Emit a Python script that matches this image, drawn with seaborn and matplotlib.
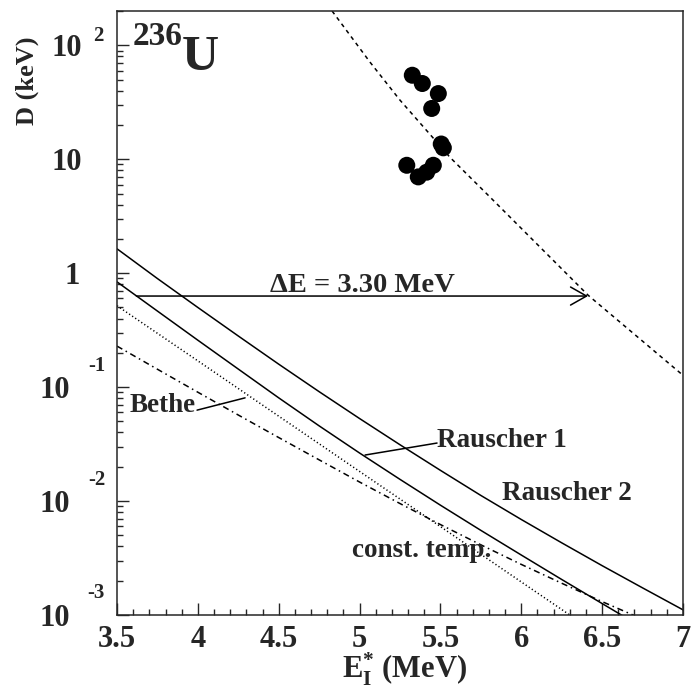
import numpy as np
import pandas as pd
import matplotlib
matplotlib.use("Agg")
import matplotlib.pyplot as plt
from matplotlib.ticker import MultipleLocator, LogLocator, NullFormatter
import seaborn as sns

# Level spacing D (keV) versus excitation energy E_I* (MeV) for 236U
energy = [3.5, 3.75, 4.0, 4.25, 4.5, 4.75, 5.0, 5.25, 5.5, 5.75, 6.0, 6.25, 6.5, 6.75, 7.0]
rauscher2_d = [1.637, 0.897, 0.500, 0.281, 0.159, 0.0912, 0.0530, 0.0312, 0.0186,
               0.0112, 0.00689, 0.00430, 0.00271, 0.00173, 0.00111]

energy_r1 = [3.5, 3.75, 4.0, 4.25, 4.5, 4.75, 5.0, 5.25, 5.5, 5.75, 6.0, 6.25, 6.5, 6.75]
rauscher1_d = [0.839, 0.465, 0.258, 0.144, 0.0805, 0.0457, 0.0264, 0.0155, 0.00920,
               0.00553, 0.00336, 0.00205, 0.00126, 0.000776]

energy_bethe = [3.5, 4.0, 4.5, 5.0, 5.5, 6.0, 6.4]
bethe_d = [0.518, 0.170, 0.0556, 0.0182, 0.00597, 0.00195, 0.00080]

energy_ct = [3.5, 3.75, 4.0, 4.25, 4.5, 4.75, 5.0, 5.25, 5.5, 5.75, 6.0, 6.25, 6.5, 6.75]
const_temp_d = [0.2291, 0.1435, 0.0902, 0.0569, 0.0361, 0.0230, 0.01469, 0.00951,
                0.00622, 0.00413, 0.00278, 0.00190, 0.00131, 0.00092]

energy_extrap = [4.83, 5.065, 5.25, 5.467, 5.559, 5.807, 6.413, 7.0]
extrap_d = [200.0, 71.0, 33.0, 14.7, 10.4, 4.65, 0.641, 0.127]

# measured resonance spacings
exp_energy = [5.326, 5.388, 5.487, 5.446, 5.518, 5.505, 5.292, 5.363, 5.415, 5.456]
exp_d = [54.6, 46.2, 37.7, 27.9, 12.6, 13.6, 8.85, 7.0, 7.7, 8.85]

arrow_d = 0.63
arrow_from, arrow_to = 3.62, 6.413

yticks = [1e-3, 1e-2, 1e-1, 1.0, 10.0, 100.0]
ytick_base = ["10", "10", "10", "1", "10", "10"]
ytick_exp = ["-3", "-2", "-1", "", "", "2"]
xticks = [3.5, 4.0, 4.5, 5.0, 5.5, 6.0, 6.5, 7.0]
xtick_labels = ["3.5", "4", "4.5", "5", "5.5", "6", "6.5", "7"]

sns.set_theme(style="ticks")
plt.rcParams.update({
    "font.family": ["Liberation Serif", "DejaVu Serif"],
    "font.weight": "bold",
    "mathtext.fontset": "custom",
    "mathtext.rm": "Liberation Serif:bold",
    "mathtext.bf": "Liberation Serif:bold",
    "mathtext.it": "Liberation Serif:bold",
    "axes.linewidth": 1.1,
})

W, H = 692, 690
fig = plt.figure(figsize=(W / 100, H / 100), dpi=100)
ax = fig.add_axes([117 / W, 1 - 615 / H, (683 - 117) / W, (615 - 11) / H])


def fpos(px, py):
    return px / W, 1 - py / H


lw = 1.1
sns.lineplot(x=energy, y=rauscher2_d, ax=ax, color="black", lw=lw, estimator=None)
sns.lineplot(x=energy_r1, y=rauscher1_d, ax=ax, color="black", lw=lw, estimator=None)
sns.lineplot(x=energy_bethe, y=bethe_d, ax=ax, color="black", lw=lw, estimator=None,
             linestyle=(0, (0.8, 1.6)))
sns.lineplot(x=energy_ct, y=const_temp_d, ax=ax, color="black", lw=lw, estimator=None,
             linestyle=(0, (4, 2.5, 1, 2.5)))
sns.lineplot(x=energy_extrap, y=extrap_d, ax=ax, color="black", lw=lw, estimator=None,
             linestyle=(0, (2.6, 2.6)))
sns.scatterplot(x=exp_energy, y=exp_d, ax=ax, color="black", s=150, edgecolor="none",
                zorder=5)

ax.set_yscale("log")
ax.set_xlim(3.5, 7.0)
ax.set_ylim(1e-3, 200)

ax.set_xticks(xticks)
ax.set_xticklabels(xtick_labels)
ax.xaxis.set_minor_locator(MultipleLocator(0.1))
ax.set_yticks(yticks)
ax.set_yticklabels([""] * len(yticks))
ax.yaxis.set_minor_locator(LogLocator(base=10, subs=np.arange(2, 10)))
ax.yaxis.set_minor_formatter(NullFormatter())
ax.tick_params(axis="both", which="major", direction="in", length=8.6, width=1.0,
               top=False, right=False, labelsize=22, pad=7)
ax.tick_params(axis="both", which="minor", direction="in", length=4.3, width=1.0,
               top=False, right=False)
for lab in ax.get_xticklabels():
    lab.set_fontweight("bold")

# decade labels in the 10 + exponent style
for val, base, ex in zip(yticks, ytick_base, ytick_exp):
    if ex.startswith("-"):
        bx, ex_x, ex_dy = -47, -12, 24
    elif ex:
        bx, ex_x, ex_dy = -35, -14, 12
    else:
        bx, ex_x, ex_dy = (-37 if base == "1" else -35), 0, 0
    ax.annotate(base, xy=(0, val), xycoords=("axes fraction", "data"),
                xytext=(bx, 0), textcoords="offset pixels", ha="right",
                va="center_baseline", fontsize=22, fontweight="bold")
    if ex:
        ax.annotate(ex, xy=(0, val), xycoords=("axes fraction", "data"),
                    xytext=(ex_x, ex_dy), textcoords="offset pixels", ha="right",
                    va="center_baseline", fontsize=15, fontweight="bold")

ax.set_xlabel("")
ax.set_ylabel("")
fig.text(*fpos(405, 679), r"$\mathbf{E_{I}^{*}}$ (MeV)", ha="center", va="baseline",
         fontsize=22, fontweight="bold")
fig.text(*fpos(27, 81), "D (keV)", ha="center", va="center", rotation=90,
         fontsize=19, fontweight="bold")

# nucleus tag
fig.text(*fpos(133, 45), "236", ha="left", va="baseline", fontsize=24, fontweight="bold")
fig.text(*fpos(182, 70), "U", ha="left", va="baseline", fontsize=37, fontweight="bold")

# energy shift arrow
ax.annotate("", xy=(arrow_to, arrow_d), xytext=(arrow_from, arrow_d),
            arrowprops=dict(arrowstyle="->, head_length=1.15, head_width=0.65",
                            lw=lw, color="black", shrinkA=0, shrinkB=0,
                            mutation_scale=10))
fig.text(*fpos(270, 292), "\u0394E = 3.30 MeV", ha="left", va="baseline",
         fontsize=20.5, fontweight="bold")

# curve labels with leader lines
fig.text(*fpos(130, 412), "Bethe", ha="left", va="baseline", fontsize=19.5,
         fontweight="bold")
ax.annotate("", xy=(4.292, 0.0805), xytext=(3.995, 0.0628),
            arrowprops=dict(arrowstyle="-", lw=lw, color="black", shrinkA=0, shrinkB=0))
fig.text(*fpos(437, 447), "Rauscher 1", ha="left", va="baseline", fontsize=19.5,
         fontweight="bold")
ax.annotate("", xy=(5.034, 0.02535), xytext=(5.479, 0.0323),
            arrowprops=dict(arrowstyle="-", lw=lw, color="black", shrinkA=0, shrinkB=0))
fig.text(*fpos(502, 500), "Rauscher 2", ha="left", va="baseline", fontsize=19.5,
         fontweight="bold")
fig.text(*fpos(352, 557), "const. temp.", ha="left", va="baseline", fontsize=19.5,
         fontweight="bold")

fig.savefig("out.png", dpi=100, facecolor="white")
